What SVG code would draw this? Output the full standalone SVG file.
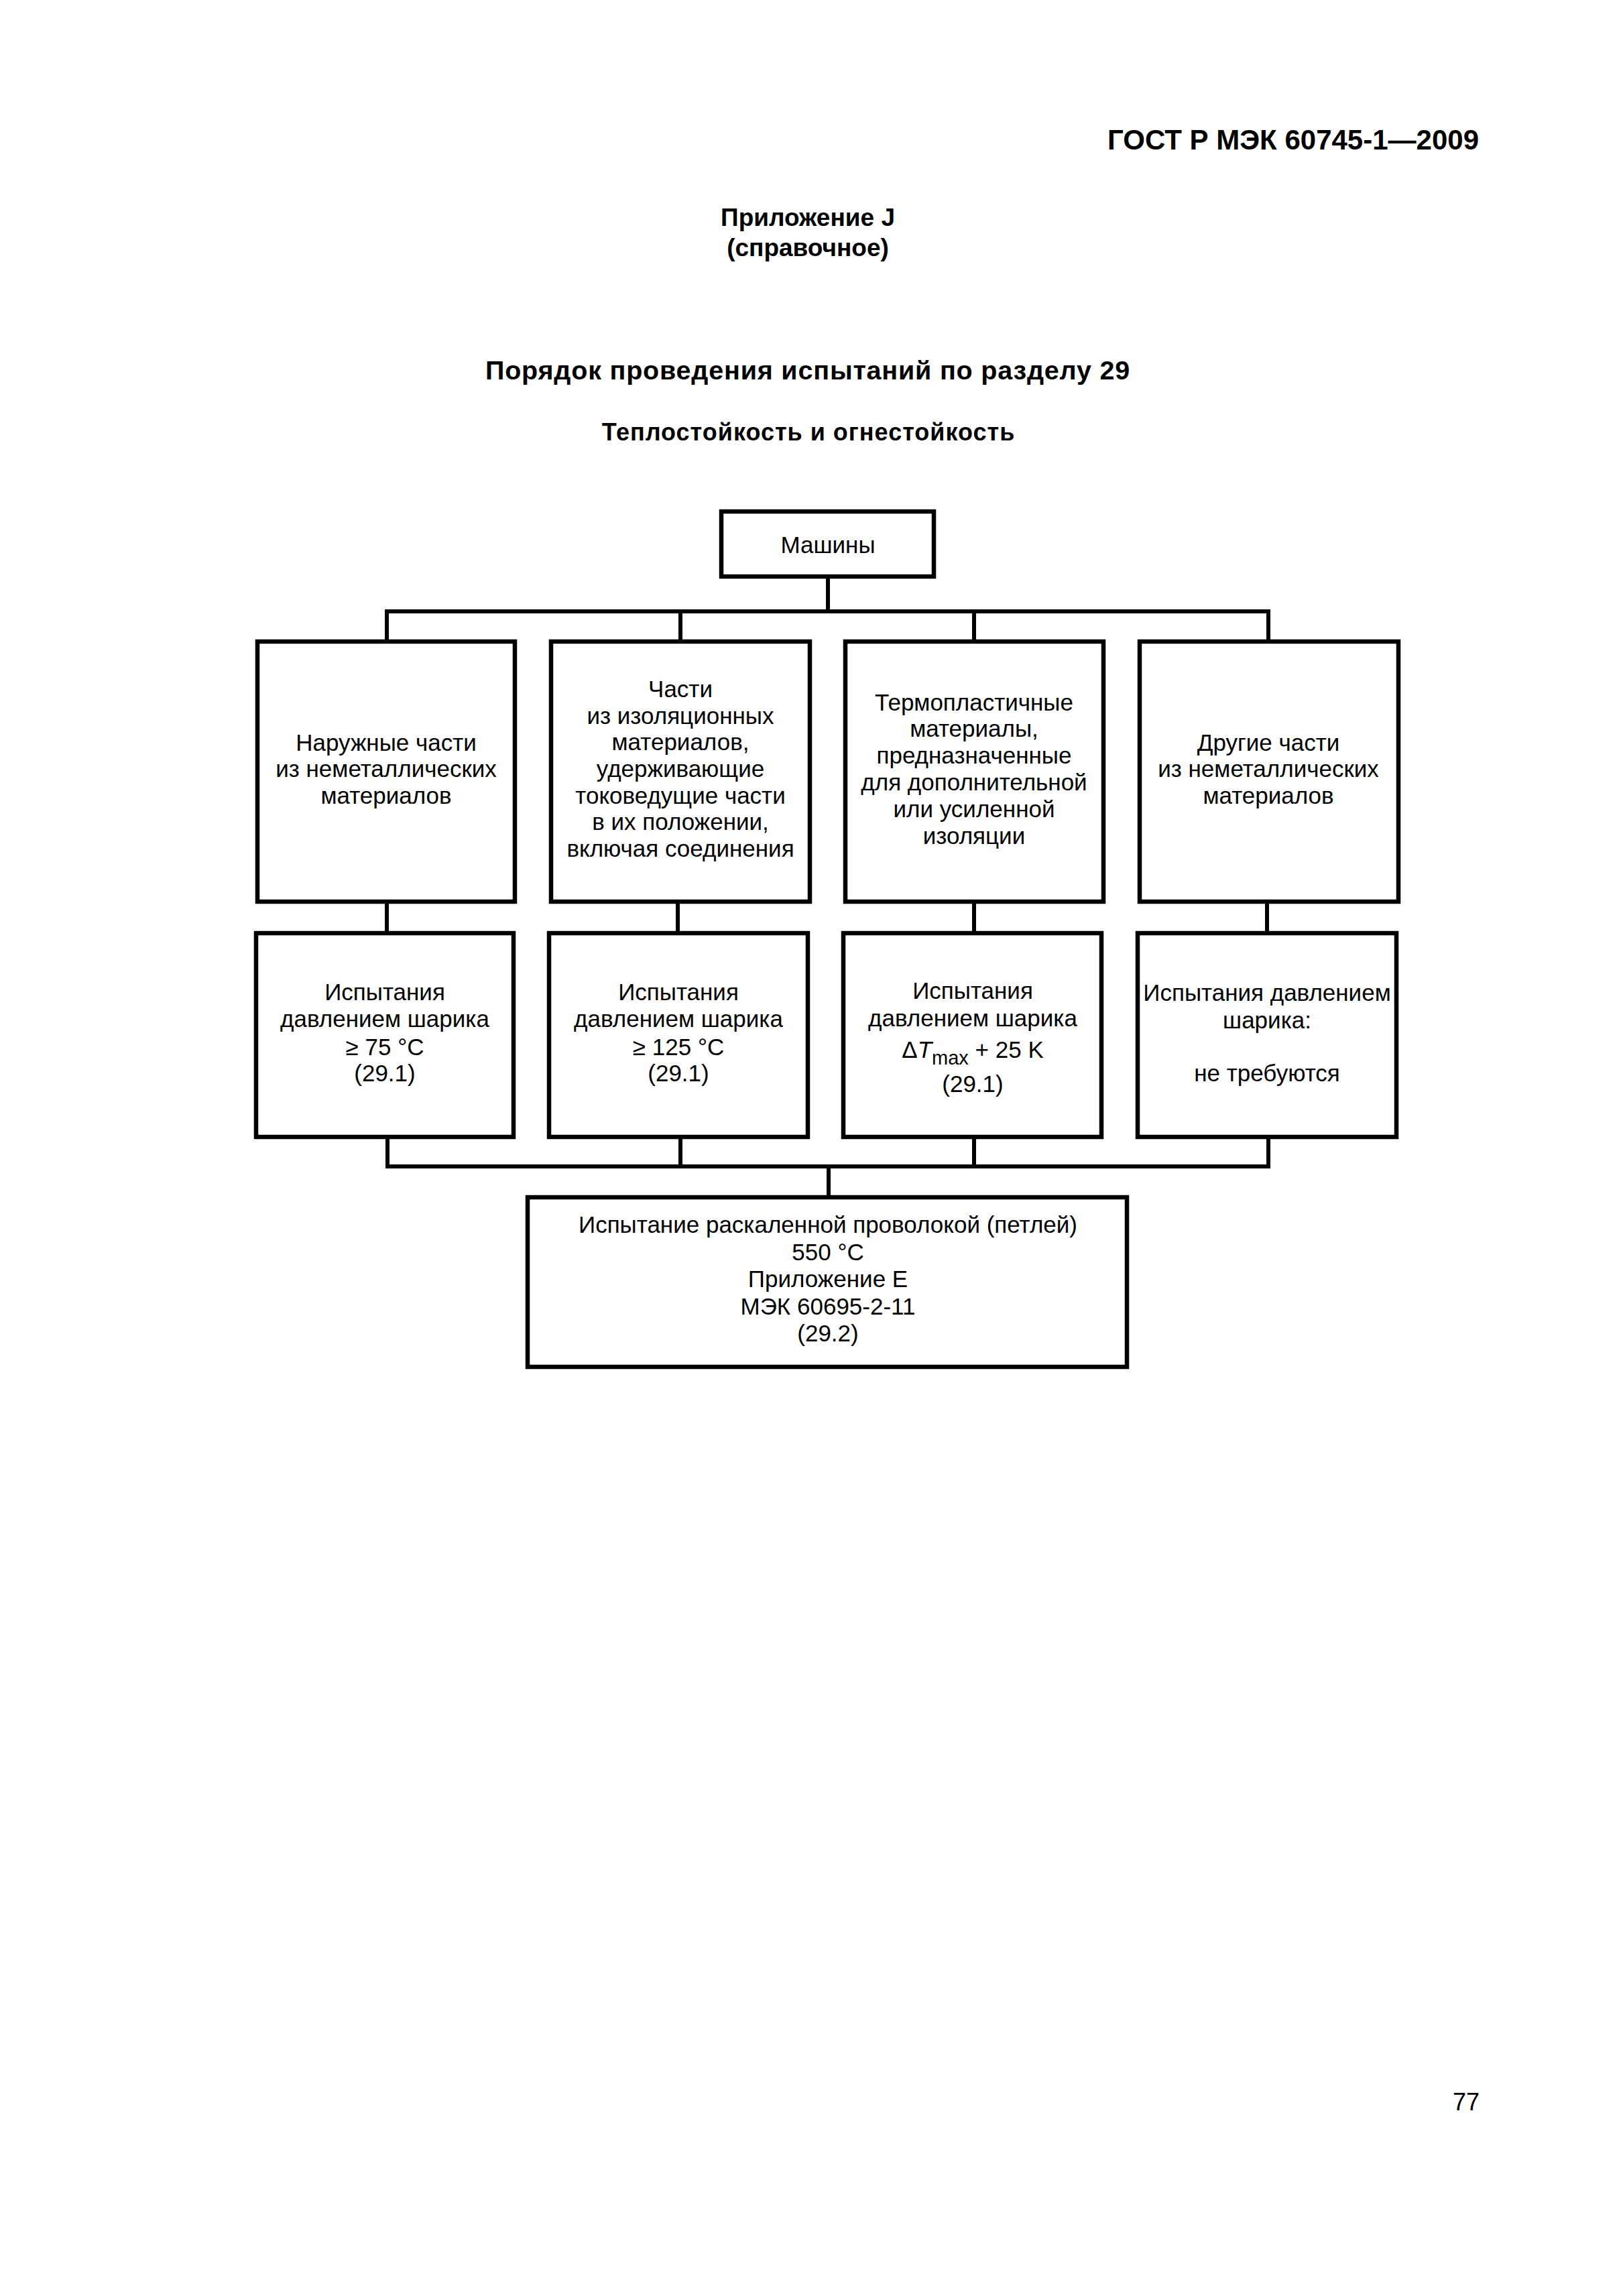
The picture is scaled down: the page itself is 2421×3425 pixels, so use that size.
<svg xmlns="http://www.w3.org/2000/svg" width="2421" height="3425" viewBox="0 0 2421 3425">
<style>
text{font-family:"Liberation Sans",Arial,sans-serif;fill:#000}
.b{font-weight:bold}
.t{font-size:35px;text-anchor:middle}
.box{fill:#fff;stroke:#000;stroke-width:6.5}
.ln{fill:none;stroke:#000;stroke-width:6;stroke-linejoin:miter;stroke-linecap:butt}
</style>
<rect x="0" y="0" width="2421" height="3425" fill="#fff"/>
<g id="page-text">
<text class="b" x="2206" y="223" font-size="42" text-anchor="end">ГОСТ Р МЭК 60745-1—2009</text>
<text class="b" x="1205" y="337" font-size="37" text-anchor="middle">Приложение J</text>
<text class="b" x="1205" y="382" font-size="37" text-anchor="middle">(справочное)</text>
<text class="b" x="1205" y="566" font-size="39.5" letter-spacing="0.8" text-anchor="middle">Порядок проведения испытаний по разделу 29</text>
<text class="b" x="1206" y="657" font-size="36" letter-spacing="1" text-anchor="middle">Теплостойкость и огнестойкость</text>
<text x="2207" y="3148" font-size="36" text-anchor="end">77</text>
</g>
<g id="connectors">
<path class="ln" d="M1235,863 V912"/>
<path class="ln" d="M577,954 V912 H1892 V954"/>
<path class="ln" d="M1015,912 V954"/>
<path class="ln" d="M1453,912 V954"/>
<path class="ln" d="M577,1348 V1390"/>
<path class="ln" d="M1011,1348 V1390"/>
<path class="ln" d="M1453,1348 V1390"/>
<path class="ln" d="M1890,1348 V1390"/>
<path class="ln" d="M578,1698 V1740 H1892 V1698"/>
<path class="ln" d="M1015,1740 V1698"/>
<path class="ln" d="M1453,1740 V1698"/>
<path class="ln" d="M1236,1740 V1783"/>
</g>
<g id="node-machines">
<rect class="box" x="1076" y="763" width="317" height="97"/>
<text class="t" x="1235" y="825">Машины</text>
</g>
<g id="node-outer">
<rect class="box" x="384" y="957" width="384" height="388"/>
<text class="t" x="576" y="1120">Наружные части</text>
<text class="t" x="576" y="1159">из неметаллических</text>
<text class="t" x="576" y="1199">материалов</text>
</g>
<g id="node-insulating">
<rect class="box" x="822" y="957" width="386" height="388"/>
<text class="t" x="1015" y="1040">Части</text>
<text class="t" x="1015" y="1080">из изоляционных</text>
<text class="t" x="1015" y="1119">материалов,</text>
<text class="t" x="1015" y="1159">удерживающие</text>
<text class="t" x="1015" y="1199">токоведущие части</text>
<text class="t" x="1015" y="1238">в их положении,</text>
<text class="t" x="1015" y="1278">включая соединения</text>
</g>
<g id="node-thermoplastic">
<rect class="box" x="1261" y="957" width="385" height="388"/>
<text class="t" x="1453" y="1060">Термопластичные</text>
<text class="t" x="1453" y="1099">материалы,</text>
<text class="t" x="1453" y="1139">предназначенные</text>
<text class="t" x="1453" y="1179">для дополнительной</text>
<text class="t" x="1453" y="1219">или усиленной</text>
<text class="t" x="1453" y="1259">изоляции</text>
</g>
<g id="node-other">
<rect class="box" x="1700" y="957" width="386" height="388"/>
<text class="t" x="1892" y="1120">Другие части</text>
<text class="t" x="1892" y="1159">из неметаллических</text>
<text class="t" x="1892" y="1199">материалов</text>
</g>
<g id="node-test75">
<rect class="box" x="382" y="1392" width="384" height="304"/>
<text class="t" x="574" y="1492">Испытания</text>
<text class="t" x="574" y="1532">давлением шарика</text>
<text class="t" x="574" y="1574">≥ 75 °C</text>
<text class="t" x="574" y="1613">(29.1)</text>
</g>
<g id="node-test125">
<rect class="box" x="819" y="1392" width="386" height="304"/>
<text class="t" x="1012" y="1492">Испытания</text>
<text class="t" x="1012" y="1532">давлением шарика</text>
<text class="t" x="1012" y="1574">≥ 125 °C</text>
<text class="t" x="1012" y="1613">(29.1)</text>
</g>
<g id="node-testdt">
<rect class="box" x="1258" y="1392" width="385" height="304"/>
<text class="t" x="1451" y="1490">Испытания</text>
<text class="t" x="1451" y="1531">давлением шарика</text>
<text class="t" x="1451" y="1578">Δ<tspan font-style="italic">T</tspan><tspan font-size="29" dy="10">max</tspan><tspan dy="-10"> + 25 K</tspan></text>
<text class="t" x="1451" y="1629">(29.1)</text>
</g>
<g id="node-notest">
<rect class="box" x="1697" y="1392" width="386" height="304"/>
<text class="t" x="1890" y="1493">Испытания давлением</text>
<text class="t" x="1890" y="1534">шарика:</text>
<text class="t" x="1890" y="1613">не требуются</text>
</g>
<g id="node-glowwire">
<rect class="box" x="787" y="1786" width="894" height="253"/>
<text class="t" x="1235" y="1839">Испытание раскаленной проволокой (петлей)</text>
<text class="t" x="1235" y="1880">550 °C</text>
<text class="t" x="1235" y="1920">Приложение Е</text>
<text class="t" x="1235" y="1961">МЭК 60695-2-11</text>
<text class="t" x="1235" y="2001">(29.2)</text>
</g>
</svg>
